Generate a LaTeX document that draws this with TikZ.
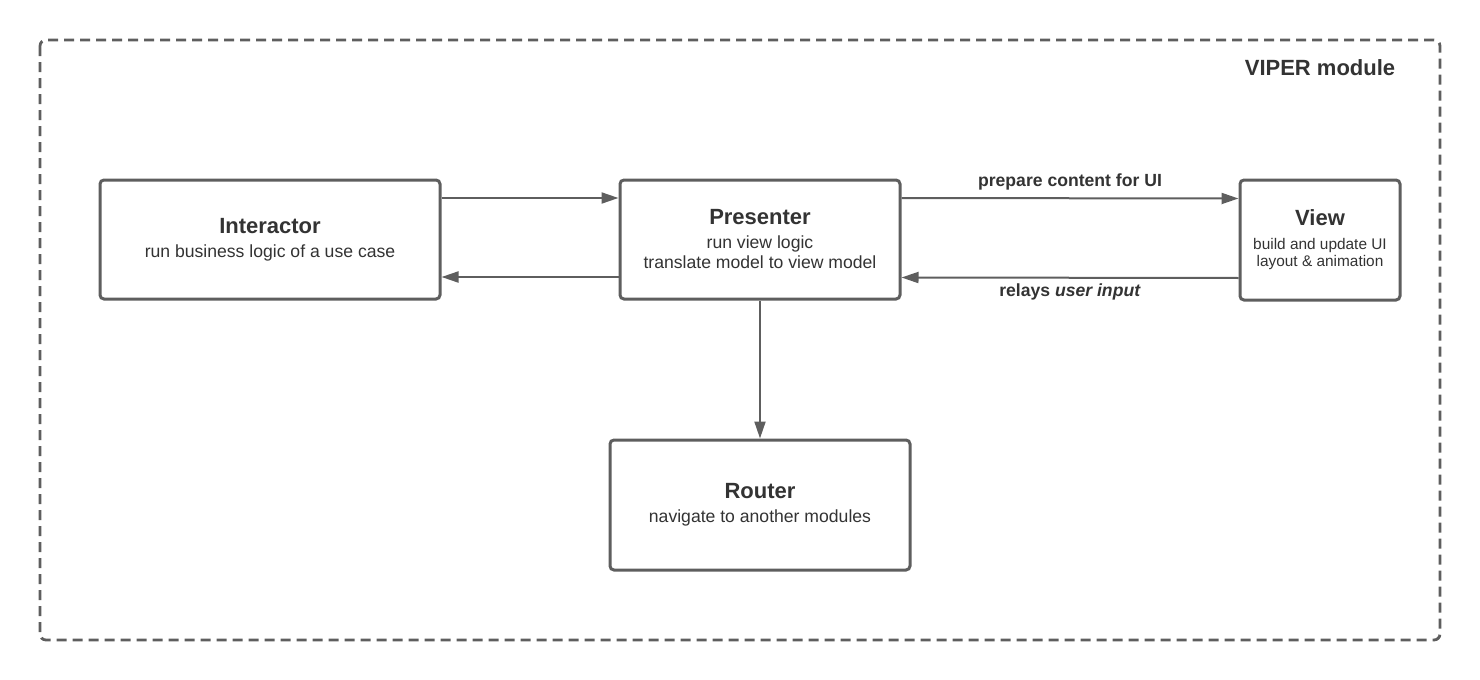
\documentclass[tikz,border=0pt]{standalone}
\usepackage{fontspec}
\setmainfont{Liberation Sans}
\usetikzlibrary{arrows.meta}
\usetikzlibrary{positioning}

\definecolor{linegray}{HTML}{5E5E5E}
\definecolor{textgray}{HTML}{333333}

\tikzset{
  part/.style={draw=linegray, line width=1.5pt, rounded corners=2pt, fill=white,
    align=center, text=textgray, inner sep=0pt},
  link/.style={draw=linegray, line width=1pt, -{Triangle[length=8.5pt,width=5.5pt]}},
  linklabel/.style={text=textgray, font=\fontsize{8.8}{10}\selectfont\bfseries},
}
\newcommand{\parttitle}[1]{{\fontsize{11}{12}\selectfont\bfseries #1}}

\begin{document}
\begin{tikzpicture}[x=0.5pt, y=-0.5pt]
      \useasboundingbox (0,0) rectangle (1480,680);
      \draw[linegray, line width=1.4pt, dash pattern=on 5pt off 3pt, rounded corners=3pt] (40,40) rectangle (1440,640);
      \node[text=textgray, font=\fontsize{11}{12}\selectfont\bfseries] (modname) at (1320,68) {VIPER module};

      \node[part, minimum width=170pt, minimum height=59.5pt] (int) at (270,239.5)
        {\parttitle{Interactor}\\\fontsize{8.8}{12.5}\selectfont run business logic of a use case};
      \node[part, minimum width=140pt, minimum height=59.5pt] (pres) at (760,239.5)
        {\parttitle{Presenter}\\\fontsize{8.8}{12.5}\selectfont run view logic\\[-2pt]\fontsize{8.8}{10.5}\selectfont translate model to view model};
      \node[part, minimum width=80pt, minimum height=60pt] (view) at (1320,240)
        {\parttitle{View}\\\fontsize{7.7}{12.5}\selectfont build and update UI\\[-3.5pt]\fontsize{7.7}{9}\selectfont layout \& animation};
      \node[part, minimum width=150pt, minimum height=65pt] (rout) at (760,505)
        {\parttitle{Router}\\\fontsize{8.8}{12.5}\selectfont navigate to another modules};

      % presenter <-> interactor
      \draw[link] ([yshift=20.75pt]int.east) -- ([yshift=20.75pt]pres.west);
      \draw[link] ([yshift=-18.75pt]pres.west) -- ([yshift=-18.75pt]int.east);

      % presenter <-> view
      \draw[link] ([yshift=20.75pt]pres.east) -- node[linklabel, above=0pt] (prep) {prepare content for UI} ([yshift=20.75pt]view.west);
      \draw[link] ([yshift=-19pt]view.west) -- node[linklabel, below=-1pt] (relay) {relays \textit{user input}} ([yshift=-19pt]pres.east);

      \draw[link] (pres.south) -- (rout.north);
    \end{tikzpicture}
\end{document}
